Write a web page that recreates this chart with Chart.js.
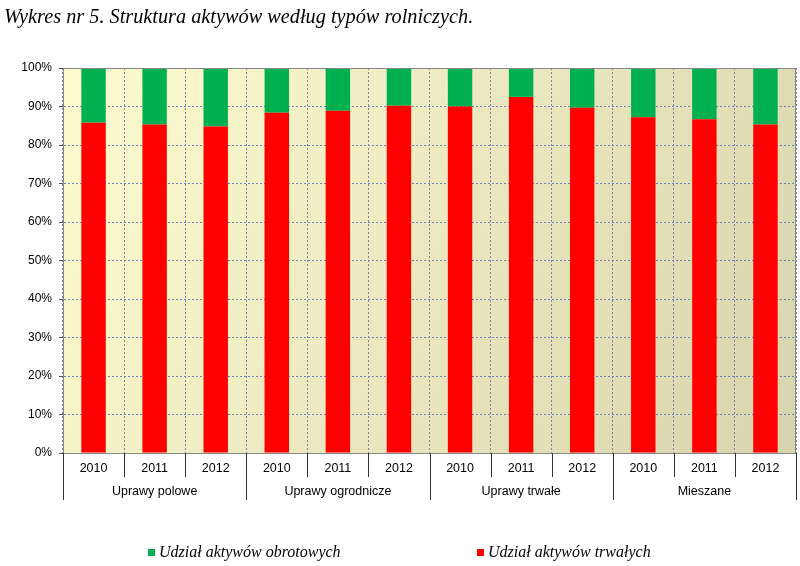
<!DOCTYPE html>
<html>
<head>
<meta charset="utf-8">
<script src="https://cdn.jsdelivr.net/npm/chart.js@4"></script>
<style>
  body { margin: 0; background: #fff; }
  #wrap { position: relative; width: 800px; height: 566px; }
  #tytul { position: absolute; left: 4px; top: 6px; font: italic 20.3px "Liberation Serif", serif; line-height: 1; color: #000; white-space: nowrap; }
  .leg { position: absolute; top: 544px; font: italic 16px "Liberation Serif", serif; line-height: 1; color: #000; white-space: nowrap; }
  .leg span { display: inline-block; width: 7px; height: 7px; margin-right: 4px; vertical-align: 1px; }
</style>
</head>
<body>
<div id="wrap">
  <canvas id="wykres" width="800" height="566"></canvas>
  <div id="tytul">Wykres nr 5. Struktura aktywów według typów rolniczych.</div>
  <div class="leg" style="left:148px"><span style="background:#00B050"></span>Udział aktywów obrotowych</div>
  <div class="leg" style="left:477px"><span style="background:#FF0000"></span>Udział aktywów trwałych</div>
</div>
<script>
// dane (w %)
const grupy = ["Uprawy polowe", "Uprawy ogrodnicze", "Uprawy trwałe", "Mieszane"];
const lata = ["2010", "2011", "2012"];
const trwale = [85.8, 85.3, 84.8, 88.4, 88.9, 90.2, 90.0, 92.5, 89.7, 87.2, 86.7, 85.3];
const obrotowe = [14.2, 14.7, 15.2, 11.6, 11.1, 9.8, 10.0, 7.5, 10.3, 12.8, 13.3, 14.7];
const yTicks = [0, 10, 20, 30, 40, 50, 60, 70, 80, 90, 100];

// etykiety osi x: lata powtorzone dla kazdej grupy
const etykiety = [];
grupy.forEach(() => lata.forEach(r => etykiety.push(r)));

const siatka = "#7282b4";

// tlo z gradientem, ramka, linie podzialu i nazwy grup pod osia
const dodatki = {
  id: "dodatki",
  beforeDraw(chart) {
    const { ctx, chartArea: a } = chart;
    const g = ctx.createLinearGradient(a.left, a.top, a.right, a.bottom);
    g.addColorStop(0, "#FDFCCF");
    g.addColorStop(1, "#D8D4AE");
    ctx.save();
    ctx.fillStyle = g;
    ctx.fillRect(a.left, a.top, a.right - a.left, a.bottom - a.top);
    ctx.restore();
  },
  afterDraw(chart) {
    const { ctx, chartArea: a } = chart;
    const x = chart.scales.x;
    ctx.save();
    ctx.strokeStyle = "#888";
    ctx.lineWidth = 1;
    ctx.strokeRect(a.left + 0.5, a.top + 0.5, a.right - a.left - 1, a.bottom - a.top);

    const krok = x.getPixelForValue(1) - x.getPixelForValue(0);
    ctx.strokeStyle = "#333";
    for (let i = 0; i <= etykiety.length; i++) {
      const px = Math.round(x.getPixelForValue(0) - krok / 2 + i * krok) + 0.5;
      const dl = i % lata.length === 0 ? 47 : 24;
      ctx.beginPath();
      ctx.moveTo(px, a.bottom);
      ctx.lineTo(px, a.bottom + dl);
      ctx.stroke();
    }
    ctx.fillStyle = "#000";
    ctx.font = '12.5px "Liberation Sans", Arial, sans-serif';
    ctx.textAlign = "center";
    ctx.textBaseline = "middle";
    grupy.forEach((g, k) => {
      ctx.fillText(g, x.getPixelForValue(k * lata.length + 1), a.bottom + 39);
    });
    ctx.restore();
  }
};

new Chart(document.getElementById("wykres"), {
  type: "bar",
  data: {
    labels: etykiety,
    datasets: [
      { label: "Udział aktywów trwałych", data: trwale, backgroundColor: "#FF0000" },
      { label: "Udział aktywów obrotowych", data: obrotowe, backgroundColor: "#00B050" }
    ]
  },
  options: {
    responsive: false,
    animation: false,
    layout: { padding: { top: 68, right: 4, left: 0, bottom: 0 } },
    datasets: { bar: { categoryPercentage: 1, barPercentage: 0.4 } },
    plugins: { legend: { display: false }, tooltip: { enabled: false } },
    scales: {
      x: {
        stacked: true,
        afterFit: s => { s.height = 113; },
        grid: { offset: true, color: siatka, drawTicks: false },
        border: { color: "#777", dash: [2, 2] },
        ticks: { color: "#000", padding: 8, font: { family: '"Liberation Sans", Arial', size: 12.5 } }
      },
      y: {
        stacked: true,
        min: 0,
        max: 100,
        afterFit: s => { s.width = 63; },
        afterBuildTicks: s => { s.ticks = yTicks.map(v => ({ value: v })); },
        grid: {
          color: c => (c.tick && (c.tick.value === 0 || c.tick.value === 100)) ? "rgba(0,0,0,0)" : siatka,
          tickLength: 4,
          tickColor: "#555",
          tickBorderDash: []
        },
        border: { color: "#777", dash: [2, 2] },
        ticks: {
          color: "#000",
          padding: 7,
          font: { family: '"Liberation Sans", Arial', size: 12 },
          callback: v => v + "%"
        }
      }
    }
  },
  plugins: [dodatki]
});
</script>
</body>
</html>
